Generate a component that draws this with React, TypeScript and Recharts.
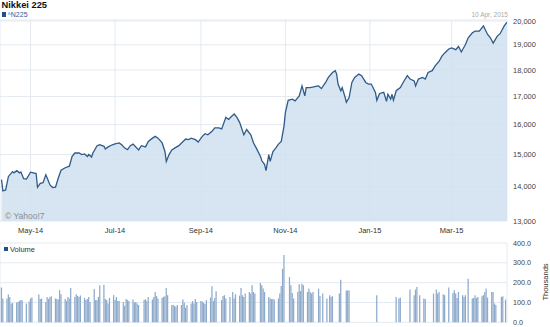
import React from 'react';
import { AreaChart, Area, BarChart, Bar, XAxis, YAxis, CartesianGrid } from 'recharts';

// Nikkei 225 close (date, index level)
const closeSeries: [string, number][] = [
  ['2014-04-10', 14210], ['2014-04-11', 13870], ['2014-04-13', 13900], ['2014-04-15', 14310],
  ['2014-04-18', 14460], ['2014-04-19', 14420], ['2014-04-21', 14490], ['2014-04-23', 14420],
  ['2014-04-24', 14450], ['2014-04-26', 14240], ['2014-04-28', 14230], ['2014-05-01', 14440],
  ['2014-05-03', 14420], ['2014-05-05', 14400], ['2014-05-06', 13980], ['2014-05-08', 14100],
  ['2014-05-10', 14120], ['2014-05-12', 14360], ['2014-05-13', 14260], ['2014-05-15', 14050],
  ['2014-05-17', 13970], ['2014-05-19', 13980], ['2014-05-21', 14260], ['2014-05-23', 14500],
  ['2014-05-26', 14580], ['2014-05-29', 14630], ['2014-05-31', 14940], ['2014-06-02', 15050],
  ['2014-06-05', 15050], ['2014-06-07', 15000], ['2014-06-09', 15020], ['2014-06-11', 14940],
  ['2014-06-12', 15000], ['2014-06-14', 14920], ['2014-06-15', 15050], ['2014-06-18', 15290],
  ['2014-06-20', 15320], ['2014-06-23', 15270], ['2014-06-24', 15180], ['2014-06-26', 15250],
  ['2014-06-29', 15320], ['2014-07-01', 15350], ['2014-07-04', 15380], ['2014-07-06', 15310],
  ['2014-07-08', 15210], ['2014-07-10', 15160], ['2014-07-12', 15290], ['2014-07-14', 15340],
  ['2014-07-18', 15150], ['2014-07-20', 15290], ['2014-07-23', 15250], ['2014-07-25', 15430],
  ['2014-07-28', 15540], ['2014-07-30', 15600], ['2014-08-01', 15540], ['2014-08-04', 15380],
  ['2014-08-06', 15100], ['2014-08-07', 14780], ['2014-08-09', 15000], ['2014-08-11', 15150],
  ['2014-08-13', 15210], ['2014-08-16', 15290], ['2014-08-18', 15380], ['2014-08-21', 15510],
  ['2014-08-23', 15490], ['2014-08-25', 15540], ['2014-08-28', 15490], ['2014-08-30', 15410],
  ['2014-09-02', 15600], ['2014-09-04', 15690], ['2014-09-06', 15650], ['2014-09-09', 15770],
  ['2014-09-11', 15890], ['2014-09-14', 15890], ['2014-09-16', 15850], ['2014-09-19', 16250],
  ['2014-09-21', 16180], ['2014-09-23', 16280], ['2014-09-25', 16370], ['2014-09-27', 16250],
  ['2014-09-29', 16070], ['2014-10-02', 15650], ['2014-10-04', 15830], ['2014-10-07', 15650],
  ['2014-10-09', 15380], ['2014-10-11', 15210], ['2014-10-14', 14940], ['2014-10-15', 14800],
  ['2014-10-17', 14680], ['2014-10-18', 14490], ['2014-10-20', 15000], ['2014-10-21', 14780],
  ['2014-10-23', 15100], ['2014-10-25', 15210], ['2014-10-27', 15340], ['2014-10-29', 15430],
  ['2014-10-31', 15950], ['2014-11-01', 16430], ['2014-11-03', 16860], ['2014-11-06', 16900],
  ['2014-11-08', 16840], ['2014-11-11', 17020], ['2014-11-13', 17390], ['2014-11-15', 17020],
  ['2014-11-16', 17330], ['2014-11-19', 17330], ['2014-11-23', 17370], ['2014-11-25', 17390],
  ['2014-11-27', 17290], ['2014-11-30', 17520], ['2014-12-02', 17710], ['2014-12-05', 17900],
  ['2014-12-07', 17970], ['2014-12-08', 17840], ['2014-12-09', 17460], ['2014-12-11', 17210],
  ['2014-12-12', 17330], ['2014-12-14', 16990], ['2014-12-15', 16790], ['2014-12-17', 16960],
  ['2014-12-19', 17520], ['2014-12-21', 17710], ['2014-12-24', 17840], ['2014-12-26', 17780],
  ['2014-12-29', 17520], ['2014-12-31', 17460], ['2015-01-02', 17460], ['2015-01-05', 17150],
  ['2015-01-06', 16860], ['2015-01-08', 17110], ['2015-01-11', 17150], ['2015-01-13', 16820],
  ['2015-01-14', 17080], ['2015-01-16', 16900], ['2015-01-17', 17080], ['2015-01-18', 16860],
  ['2015-01-20', 17210], ['2015-01-23', 17330], ['2015-01-25', 17520], ['2015-01-28', 17780],
  ['2015-01-30', 17650], ['2015-02-02', 17580], ['2015-02-03', 17390], ['2015-02-05', 17650],
  ['2015-02-08', 17710], ['2015-02-10', 17650], ['2015-02-12', 17900], ['2015-02-15', 17970],
  ['2015-02-17', 18150], ['2015-02-20', 18340], ['2015-02-22', 18540], ['2015-02-24', 18670],
  ['2015-02-27', 18830], ['2015-03-01', 18870], ['2015-03-04', 18800], ['2015-03-06', 18930],
  ['2015-03-08', 18710], ['2015-03-11', 19010], ['2015-03-13', 19290], ['2015-03-16', 19500],
  ['2015-03-18', 19570], ['2015-03-21', 19570], ['2015-03-23', 19720], ['2015-03-24', 19790],
  ['2015-03-27', 19430], ['2015-03-29', 19290], ['2015-03-31', 19070], ['2015-04-03', 19360],
  ['2015-04-05', 19460], ['2015-04-08', 19790], ['2015-04-10', 19950],
];

// Volume in thousands (date, volume)
const volumeSeries: [string, number][] = [
  ['2014-04-10', 175], ['2014-04-11', 120], ['2014-04-14', 120], ['2014-04-15', 140], ['2014-04-16', 128],
  ['2014-04-17', 95], ['2014-04-18', 97], ['2014-04-21', 100], ['2014-04-22', 103], ['2014-04-23', 108],
  ['2014-04-24', 112], ['2014-04-25', 110], ['2014-04-28', 95], ['2014-04-30', 105], ['2014-05-01', 120],
  ['2014-05-02', 125], ['2014-05-07', 140], ['2014-05-08', 117], ['2014-05-09', 120], ['2014-05-12', 103],
  ['2014-05-13', 128], ['2014-05-14', 118], ['2014-05-15', 128], ['2014-05-16', 132], ['2014-05-19', 120],
  ['2014-05-20', 118], ['2014-05-21', 115], ['2014-05-22', 162], ['2014-05-23', 142], ['2014-05-26', 118],
  ['2014-05-27', 108], ['2014-05-28', 128], ['2014-05-29', 120], ['2014-05-30', 173], ['2014-06-02', 128],
  ['2014-06-03', 142], ['2014-06-04', 133], ['2014-06-05', 128], ['2014-06-06', 135], ['2014-06-09', 123],
  ['2014-06-10', 112], ['2014-06-11', 117], ['2014-06-12', 128], ['2014-06-13', 103], ['2014-06-16', 168],
  ['2014-06-17', 112], ['2014-06-18', 112], ['2014-06-19', 128], ['2014-06-20', 187], ['2014-06-23', 190],
  ['2014-06-24', 117], ['2014-06-25', 112], ['2014-06-26', 95], ['2014-06-27', 123], ['2014-06-30', 137],
  ['2014-07-01', 112], ['2014-07-02', 128], ['2014-07-03', 107], ['2014-07-04', 108], ['2014-07-07', 103],
  ['2014-07-08', 83], ['2014-07-09', 117], ['2014-07-10', 112], ['2014-07-11', 107], ['2014-07-14', 115],
  ['2014-07-15', 100], ['2014-07-16', 103], ['2014-07-17', 95], ['2014-07-18', 87], ['2014-07-22', 112],
  ['2014-07-23', 117], ['2014-07-24', 107], ['2014-07-25', 128], ['2014-07-28', 115], ['2014-07-29', 128],
  ['2014-07-30', 153], ['2014-07-31', 133], ['2014-08-01', 120], ['2014-08-04', 123], ['2014-08-05', 128],
  ['2014-08-06', 132], ['2014-08-07', 173], ['2014-08-08', 137], ['2014-08-11', 87], ['2014-08-12', 87],
  ['2014-08-13', 83], ['2014-08-14', 78], ['2014-08-15', 87], ['2014-08-18', 87], ['2014-08-19', 115],
  ['2014-08-20', 100], ['2014-08-21', 75], ['2014-08-22', 87], ['2014-08-25', 95], ['2014-08-26', 107],
  ['2014-08-27', 95], ['2014-08-28', 117], ['2014-08-29', 102], ['2014-09-01', 108], ['2014-09-02', 105],
  ['2014-09-03', 98], ['2014-09-04', 92], ['2014-09-05', 112], ['2014-09-08', 125], ['2014-09-09', 182],
  ['2014-09-10', 108], ['2014-09-11', 122], ['2014-09-12', 157], ['2014-09-16', 112], ['2014-09-17', 133],
  ['2014-09-18', 137], ['2014-09-19', 120], ['2014-09-22', 128], ['2014-09-24', 153], ['2014-09-25', 120],
  ['2014-09-26', 142], ['2014-09-29', 135], ['2014-09-30', 173], ['2014-10-01', 137], ['2014-10-02', 128],
  ['2014-10-03', 145], ['2014-10-06', 153], ['2014-10-07', 145], ['2014-10-08', 187], ['2014-10-09', 153],
  ['2014-10-10', 145], ['2014-10-14', 198], ['2014-10-15', 187], ['2014-10-16', 170], ['2014-10-17', 153],
  ['2014-10-20', 128], ['2014-10-21', 120], ['2014-10-22', 117], ['2014-10-23', 118], ['2014-10-24', 115],
  ['2014-10-27', 120], ['2014-10-28', 145], ['2014-10-29', 183], ['2014-10-30', 270], ['2014-10-31', 340],
  ['2014-11-04', 228], ['2014-11-05', 187], ['2014-11-06', 148], ['2014-11-07', 120], ['2014-11-10', 153],
  ['2014-11-11', 192], ['2014-11-12', 158], ['2014-11-13', 195], ['2014-11-14', 187], ['2014-11-17', 153],
  ['2014-11-18', 170], ['2014-11-19', 153], ['2014-11-20', 145], ['2014-11-21', 153], ['2014-11-25', 170],
  ['2014-11-26', 133], ['2014-11-28', 145], ['2014-12-01', 120], ['2014-12-03', 137], ['2014-12-04', 128],
  ['2014-12-05', 132], ['2014-12-10', 145], ['2014-12-11', 215], ['2014-12-15', 160], ['2014-12-16', 160],
  ['2014-12-17', 160], ['2015-01-06', 137], ['2015-01-20', 128], ['2015-01-22', 120], ['2015-01-23', 125],
  ['2015-01-30', 165], ['2015-02-02', 137], ['2015-02-03', 165], ['2015-02-04', 178], ['2015-02-06', 137],
  ['2015-02-09', 120], ['2015-02-10', 117], ['2015-02-16', 145], ['2015-02-18', 165], ['2015-02-19', 145],
  ['2015-02-20', 153], ['2015-02-23', 142], ['2015-02-24', 137], ['2015-02-27', 175], ['2015-03-02', 148],
  ['2015-03-03', 162], ['2015-03-04', 145], ['2015-03-05', 123], ['2015-03-06', 153], ['2015-03-09', 137],
  ['2015-03-10', 128], ['2015-03-11', 137], ['2015-03-13', 220], ['2015-03-16', 120], ['2015-03-17', 123],
  ['2015-03-18', 137], ['2015-03-19', 123], ['2015-03-20', 128], ['2015-03-23', 132], ['2015-03-24', 137],
  ['2015-03-25', 153], ['2015-03-26', 170], ['2015-03-27', 125], ['2015-03-30', 153], ['2015-03-31', 153],
  ['2015-04-01', 95], ['2015-04-02', 87], ['2015-04-06', 128], ['2015-04-07', 132], ['2015-04-09', 115],
];

const xTickDates = ['2014-05-01', '2014-07-01', '2014-09-01', '2014-11-01', '2015-01-01', '2015-03-01'];
const xTickLabels = ['May-14', 'Jul-14', 'Sep-14', 'Nov-14', 'Jan-15', 'Mar-15'];
const xDomainDates = ['2014-04-08T22:00:00Z', '2015-04-10T00:00:00Z'];
const priceTicks = [13000, 14000, 15000, 16000, 17000, 18000, 19000, 20000];
const priceDomain = [13000, 20043];
const volumeTicks = [0, 100, 200, 300, 400];
const volumeDomain = [0, 400];

const FONT = '"Liberation Sans", Arial, sans-serif';

const toT = (s: string) => Date.parse(s.length === 10 ? s + 'T00:00:00Z' : s);
const priceData = closeSeries.map(([d, v]) => ({ t: toT(d), close: v }));
const volumeData = volumeSeries.map(([d, v]) => ({ t: toT(d), vol: v }));
const xTicks = xTickDates.map(toT);
const xDomain = xDomainDates.map(toT);
const fmtX = (v: number) => {
  const i = xTicks.indexOf(v);
  return i >= 0 ? xTickLabels[i] : '';
};

const abs = (style: React.CSSProperties): React.CSSProperties => ({
  position: 'absolute',
  lineHeight: 1,
  whiteSpace: 'nowrap',
  fontFamily: FONT,
  ...style,
});

export default function App() {
  return (
    <div style={{ position: 'absolute', left: 0, top: 0, width: 550, height: 327, background: '#fff', overflow: 'hidden' }}>
      <div style={{ position: 'absolute', left: 0, top: 0 }}>
        <AreaChart width={550} height={240} data={priceData} margin={{ top: 20, right: 0, bottom: 0, left: 0 }}>
          <CartesianGrid stroke="#e4eaf1" strokeWidth={1} />
          <XAxis
            dataKey="t"
            type="number"
            domain={xDomain}
            ticks={xTicks}
            tickFormatter={fmtX}
            allowDataOverflow
            interval={0}
            axisLine={false}
            tickLine={false}
            tickSize={0}
            tickMargin={7}
            height={19}
            tick={{ fontSize: 7.5, fill: '#333', fontFamily: FONT }}
          />
          <YAxis
            orientation="right"
            scale="log"
            domain={priceDomain}
            ticks={priceTicks}
            allowDataOverflow
            interval={0}
            width={43}
            axisLine={false}
            tickLine={false}
            tickSize={0}
            tickMargin={6}
            tick={{ fontSize: 7.5, fill: '#444', fontFamily: FONT }}
            tickFormatter={(v: number) => v.toLocaleString('en-US')}
          />
          <Area
            type="linear"
            dataKey="close"
            stroke="#2f5b88"
            strokeWidth={1.3}
            fill="#cfe0ee"
            fillOpacity={0.85}
            baseValue="dataMin"
            dot={false}
            activeDot={false}
            isAnimationActive={false}
          />
        </AreaChart>
      </div>
      <div style={{ position: 'absolute', left: 0, top: 240 }}>
        <BarChart width={550} height={87} data={volumeData} margin={{ top: 3, right: 0, bottom: 4.7, left: 0 }}>
          <CartesianGrid stroke="#e4eaf1" strokeWidth={1} />
          <XAxis
            dataKey="t"
            type="number"
            domain={xDomain}
            ticks={xTicks}
            allowDataOverflow
            interval={0}
            height={0}
            tick={false}
            axisLine={false}
            tickLine={false}
          />
          <YAxis
            orientation="right"
            domain={volumeDomain}
            ticks={volumeTicks}
            interval={0}
            width={43}
            axisLine={false}
            tickLine={false}
            tickSize={0}
            tickMargin={6}
            tick={{ fontSize: 7.2, fill: '#444', fontFamily: FONT }}
            tickFormatter={(v: number) => v.toFixed(1)}
          />
          <Bar dataKey="vol" fill="#8eaacb" barSize={1.4} isAnimationActive={false} />
        </BarChart>
      </div>

      <div style={abs({ left: 1.5, top: 0.5, fontSize: 9.3, fontWeight: 'bold', color: '#111' })}>Nikkei 225</div>
      <div style={abs({ left: 1.7, top: 12.3, width: 4.5, height: 4.5, background: '#1e4f8e' })} />
      <div style={abs({ left: 7.5, top: 10.8, fontSize: 7, color: '#2a5ea0' })}>^N225</div>
      <div style={abs({ right: 42, top: 11.5, fontSize: 6.5, color: '#aaa' })}>10 Apr, 2015</div>
      <div style={abs({ left: 5, top: 212.2, fontSize: 8.5, color: '#8c8c8c' })}>© Yahoo!7</div>

      <div style={abs({ left: 3.5, top: 247, width: 4, height: 4, background: '#1e4f8e' })} />
      <div style={abs({ left: 10, top: 245.7, fontSize: 7.5, color: '#333' })}>Volume</div>
      <div
        style={abs({
          left: 545.5,
          top: 282,
          fontSize: 7.5,
          color: '#333',
          transform: 'translate(-50%, -50%) rotate(-90deg)',
        })}
      >
        Thousands
      </div>
    </div>
  );
}
